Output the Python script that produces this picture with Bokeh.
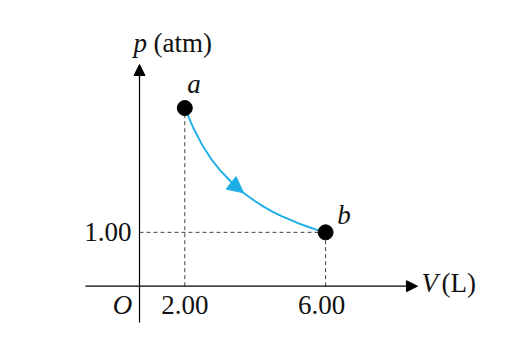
from bokeh.plotting import figure
from bokeh.models import Arrow, NormalHead, Range1d
from bokeh.core.properties import value
from bokeh.embed import file_html
from bokeh.resources import INLINE

# Data
state_V = [2.00, 6.00]          # L
state_p = [3.00, 1.00]          # atm
state_names = ["a", "b"]
curve_V = [2.00, 2.25, 2.50, 2.75, 3.00, 3.25, 3.50, 3.75, 4.00, 4.25, 4.50, 4.75, 5.00, 5.25, 5.50, 5.75, 6.00]
curve_p = [3.00, 2.67, 2.40, 2.18, 2.00, 1.85, 1.71, 1.60, 1.50, 1.41, 1.33, 1.26, 1.20, 1.14, 1.09, 1.04, 1.00]
x_tick_values = [2.00, 6.00]
x_tick_labels = ["2.00", "6.00"]
y_tick_values = [1.00]
y_tick_labels = ["1.00"]

# schematic axis placement (drawn origin)
V0, p0 = 0.713, 0.134

p = figure(width=507, height=361, output_backend="svg", toolbar_location=None,
           x_range=Range1d(-3.236, 11.168), y_range=Range1d(-1.078, 4.730),
           min_border=0, outline_line_color=None)
p.axis.visible = False
p.grid.visible = False

SERIF = "Liberation Serif"
FS = "27px"
YO = -9
dash_col = "#444444"

def label(x, y, s, italic=False, align="left"):
    p.text([x], [y], text=[s], text_font=value(SERIF),
           text_font_style="italic" if italic else "normal",
           text_font_size=FS, text_align=align, text_baseline="alphabetic",
           y_offset=YO, text_color="#111111")

# dashed guide lines
for v, pp in zip(state_V, state_p):
    p.line([v, v], [p0, pp], line_dash="4 3", line_color=dash_col, line_width=1)
p.line([V0, state_V[1]], [y_tick_values[0], y_tick_values[0]], line_dash="4 3", line_color=dash_col, line_width=1)

# axes
p.line([V0, V0], [-0.45, 3.55], line_color="black", line_width=1.2)
p.line([-0.821, 8.40], [p0, p0], line_color="black", line_width=1.2)
p.add_layout(Arrow(end=NormalHead(size=11, fill_color="black", line_color="black"),
                   x_start=V0, y_start=3.45, x_end=V0, y_end=3.70, line_color="black", line_width=1.2))
p.add_layout(Arrow(end=NormalHead(size=11, fill_color="black", line_color="black"),
                   x_start=8.3, y_start=p0, x_end=8.61, y_end=p0, line_color="black", line_width=1.2))

# process curve
curve_col = "#1eaee6"
p.line(curve_V, curve_p, line_color=curve_col, line_width=1.9)
i0 = 6
p.add_layout(Arrow(end=NormalHead(size=16, fill_color=curve_col, line_color=curve_col),
                   x_start=curve_V[i0] - 0.05, y_start=curve_p[i0] + 0.025,
                   x_end=curve_V[i0] + 0.17, y_end=curve_p[i0] - 0.075,
                   line_alpha=0))

# states
p.scatter(state_V, state_p, size=15, color="black")
label(state_V[0] + 0.26, state_p[0] + 0.234, state_names[0], italic=True, align="center")
label(state_V[1] + 0.52, state_p[1] + 0.142, state_names[1], italic=True, align="center")

# tick labels
label(x_tick_values[0], -0.306, x_tick_labels[0], align="center")
label(x_tick_values[1] - 0.11, -0.306, x_tick_labels[1], align="center")
label(0.486, y_tick_values[0] - 0.14, y_tick_labels[0], align="right")
label(0.23, -0.306, "O", italic=True, align="center")

# axis titles
label(0.543, 3.894, "p", italic=True)
label(1.111, 3.894, "(atm)")
label(8.724, 0.048, "V", italic=True)
label(9.293, 0.048, "(L)")

open("out.html", "w").write(file_html(p, INLINE))
